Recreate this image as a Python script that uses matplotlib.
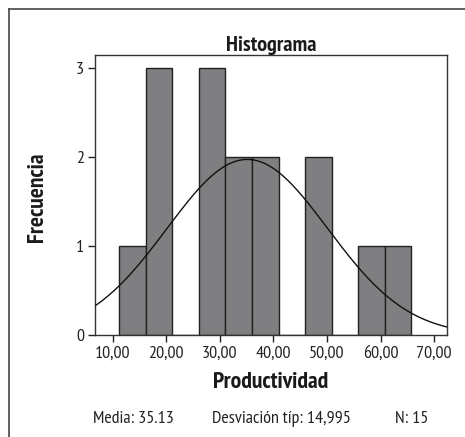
import matplotlib.pyplot as plt
import numpy as np
from matplotlib.lines import Line2D

plt.rcParams['font.family'] = ['PT Sans Narrow', 'Archivo Narrow', 'DejaVu Sans']

# Data
bin_edges = [11.25, 16.2, 21.15, 26.1, 31.05, 36.0, 40.95, 45.9, 50.85, 55.8, 60.75, 65.7]
counts = [1, 3, 0, 3, 2, 2, 0, 2, 0, 1, 1]
mean = 35.13
std_dev = 14.995
n_obs = 15
x_ticks = [10, 20, 30, 40, 50, 60, 70]
x_tick_labels = ['10,00', '20,00', '30,00', '40,00', '50,00', '60,00', '70,00']
y_ticks = [0, 1, 2, 3]

fig = plt.figure(figsize=(4.65, 4.37), dpi=100)
ax = fig.add_axes([95 / 465, 1 - 335 / 437, 352 / 465, 280 / 437])

edges = np.array(bin_edges)
widths = np.diff(edges)
ax.bar(edges[:-1], counts, width=widths, align='edge',
       color='#7f7f82', edgecolor='#222222', linewidth=1.0, zorder=2)

# Fitted normal curve
bw = widths.mean()
xs = np.linspace(6.7, 72.4, 300)
ys = n_obs * bw / (std_dev * np.sqrt(2 * np.pi)) * np.exp(-0.5 * ((xs - mean) / std_dev) ** 2)
ax.plot(xs, ys, color='#111111', linewidth=1.0, zorder=3)

ax.set_xlim(6.7, 72.4)
ax.set_ylim(0, 3.15)
ax.set_xticks(x_ticks)
ax.set_xticklabels(x_tick_labels, fontsize=13)
ax.set_yticks(y_ticks)
ax.set_yticklabels([str(v) for v in y_ticks], fontsize=13)
ax.tick_params(length=5, width=1, color='#222222', pad=3, labelcolor='#222222')
for s in ax.spines.values():
    s.set_color('#333333')
    s.set_linewidth(1.0)

ax.set_title('Histograma', fontsize=16, fontweight='bold', pad=3, color='#1a1a1a')
ax.set_xlabel('Productividad', fontsize=17, fontweight='bold', labelpad=7, color='#1a1a1a')
fig.text(37 / 465, 1 - 197 / 437, 'Frecuencia', fontsize=17, fontweight='bold',
         rotation=90, ha='center', va='center', color='#1a1a1a')

# Footer statistics
fy = 1 - 419 / 437
fig.text(133 / 465, fy, 'Media: 35.13', fontsize=13, ha='center', va='center', color='#222222')
fig.text(281 / 465, fy, 'Desviación típ: 14,995', fontsize=13, ha='center', va='center', color='#222222')
fig.text(412 / 465, fy, 'N: 15', fontsize=13, ha='center', va='center', color='#222222')

# Outer frame (top and left only)
fig.add_artist(Line2D([9 / 465, 1], [1 - 9 / 437, 1 - 9 / 437], color='#444444', linewidth=1.2))
fig.add_artist(Line2D([9 / 465, 9 / 465], [0, 1 - 9 / 437], color='#444444', linewidth=1.2))

fig.savefig('out.png', dpi=100)
